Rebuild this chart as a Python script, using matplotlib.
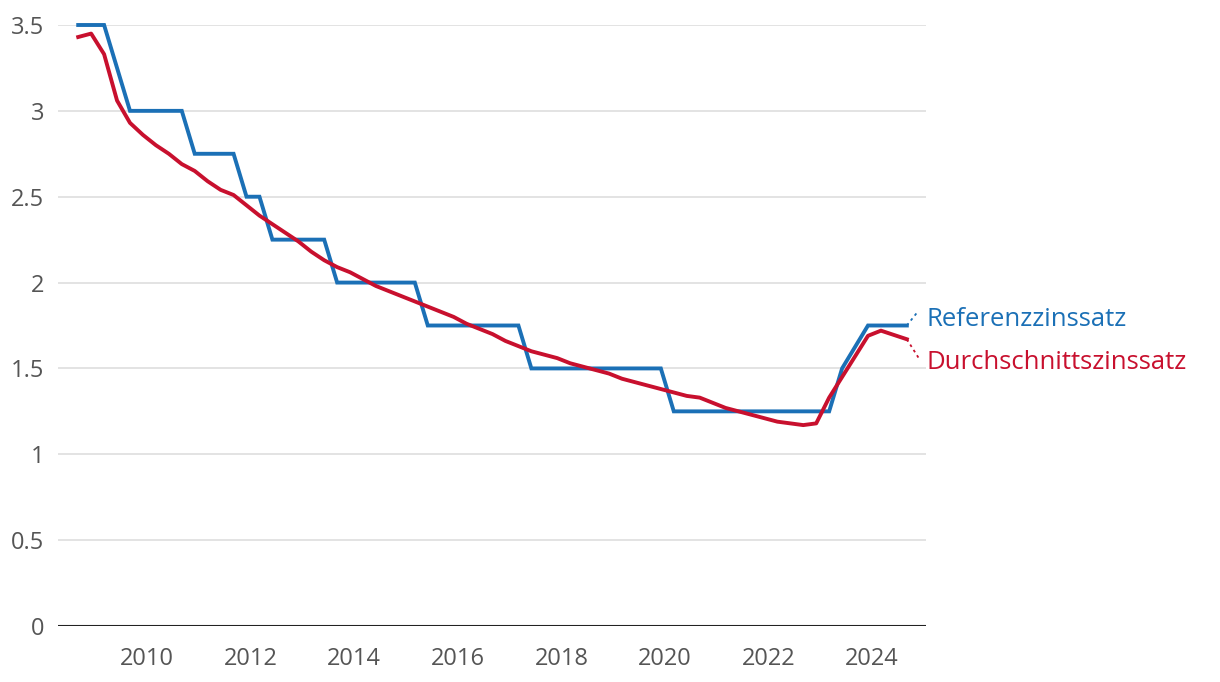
import matplotlib.pyplot as plt
import numpy as np

# quarterly, from Sep 2008 to Sep 2024
start_year = 2008.67
referenz = [3.5, 3.5, 3.5, 3.25, 3.0, 3.0, 3.0, 3.0, 3.0,
            2.75, 2.75, 2.75, 2.75, 2.5, 2.5,
            2.25, 2.25, 2.25, 2.25, 2.25,
            2.0, 2.0, 2.0, 2.0, 2.0, 2.0, 2.0,
            1.75, 1.75, 1.75, 1.75, 1.75, 1.75, 1.75, 1.75,
            1.5, 1.5, 1.5, 1.5, 1.5, 1.5, 1.5, 1.5, 1.5, 1.5, 1.5,
            1.25, 1.25, 1.25, 1.25, 1.25, 1.25, 1.25, 1.25, 1.25, 1.25, 1.25, 1.25, 1.25,
            1.5, 1.625, 1.75, 1.75, 1.75, 1.75]
durchschnitt = [3.43, 3.45, 3.33, 3.06, 2.93, 2.86, 2.80, 2.75, 2.69, 2.65,
                2.59, 2.54, 2.51, 2.45, 2.39, 2.34, 2.29, 2.24, 2.18, 2.13,
                2.09, 2.06, 2.02, 1.98, 1.95, 1.92, 1.89, 1.86, 1.83, 1.80,
                1.76, 1.73, 1.70, 1.66, 1.63, 1.60, 1.58, 1.56, 1.53, 1.51,
                1.49, 1.47, 1.44, 1.42, 1.40, 1.38, 1.36, 1.34, 1.33, 1.30,
                1.27, 1.25, 1.23, 1.21, 1.19, 1.18, 1.17, 1.18, 1.33, 1.45,
                1.57, 1.69, 1.72, 1.695, 1.67]
yticks = [0, 0.5, 1, 1.5, 2, 2.5, 3, 3.5]
ytick_labels = ['0', '0.5', '1', '1.5', '2', '2.5', '3', '3.5']
xticks = [2010, 2012, 2014, 2016, 2018, 2020, 2022, 2024]

blue = '#1b70b6'
red = '#c8102e'
grey = '#555555'

plt.rcParams['font.family'] = ['Open Sans', 'DejaVu Sans']

t = start_year + 0.25 * np.arange(len(referenz))

fig = plt.figure(figsize=(12.2, 6.82), dpi=100)
ax = fig.add_axes([58/1220, 1 - 626/682, (926-58)/1220, (626-25)/682])

for y in yticks[1:]:
    ax.axhline(y, color='#e0e0e0', lw=1.3, zorder=0)
ax.axhline(0, color='#222222', lw=1.5, zorder=1)

ax.plot(t, referenz, color=blue, lw=2.8, solid_joinstyle='miter', clip_on=False, zorder=3)
ax.plot(t, durchschnitt, color=red, lw=2.8, clip_on=False, zorder=4)

# label connectors
ax.plot([t[-1], t[-1] + 0.21], [referenz[-1], 1.83], color=blue, lw=1.3, ls=(0, (1.5, 2)), clip_on=False)
ax.plot([t[-1], t[-1] + 0.23], [durchschnitt[-1], 1.56], color=red, lw=1.3, ls=(0, (1.5, 2)), clip_on=False)
ax.text(t[-1] + 0.38, 1.785, 'Referenzzinssatz', color=blue, fontsize=18.5, va='center', ha='left')
ax.text(t[-1] + 0.38, 1.535, 'Durchschnittszinssatz', color=red, fontsize=18.5, va='center', ha='left')

ax.set_xlim(2008.28, 2025.04)
ax.set_ylim(0, 3.5)
ax.set_yticks(yticks)
ax.set_yticklabels(ytick_labels)
ax.set_xticks(xticks)
ax.tick_params(axis='both', length=0, labelsize=17, labelcolor=grey)
ax.tick_params(axis='y', pad=10)
ax.tick_params(axis='x', pad=15)
for s in ax.spines.values():
    s.set_visible(False)

fig.savefig('out.png', dpi=100)
